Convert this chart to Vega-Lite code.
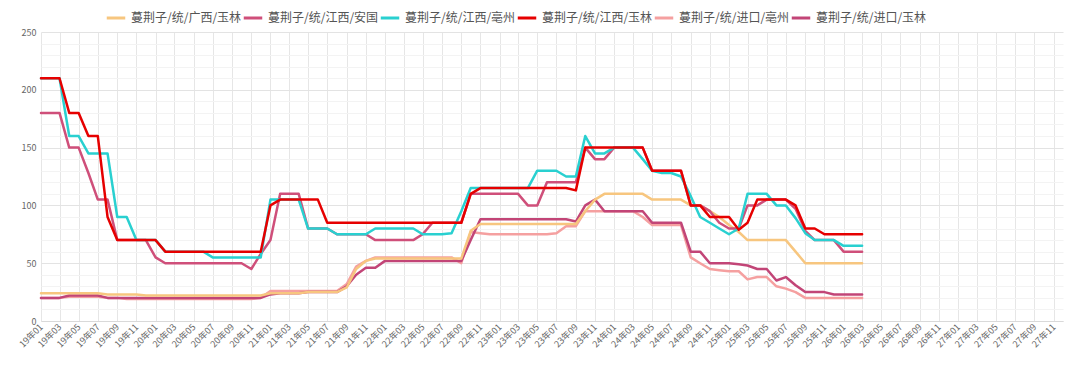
{
  "$schema": "https://vega.github.io/schema/vega-lite/v6.json",
  "width": 1022,
  "height": 289,
  "autosize": {"type": "none"},
  "padding": {"left": 41, "top": 32, "right": 17, "bottom": 53},
  "background": "white",
  "config": {"view": {"stroke": null}, "font": "Noto Sans CJK SC"},
  "data": {"values": [
    {"d":"2019-01-01","a":24,"b":180,"c":210,"e2":210,"e":20,"f":20},
    {"d":"2019-02-01","a":24,"b":180,"c":210,"e2":210,"e":20,"f":20},
    {"d":"2019-03-01","a":24,"b":180,"c":210,"e2":210,"e":20,"f":20},
    {"d":"2019-04-01","a":24,"b":150,"c":160,"e2":180,"e":21,"f":22},
    {"d":"2019-05-01","a":24,"b":150,"c":160,"e2":180,"e":21,"f":22},
    {"d":"2019-06-01","a":24,"b":128,"c":145,"e2":160,"e":21,"f":22},
    {"d":"2019-07-01","a":24,"b":105,"c":145,"e2":160,"e":21,"f":22},
    {"d":"2019-08-01","a":23,"b":105,"c":145,"e2":90,"e":20,"f":20},
    {"d":"2019-09-01","a":23,"b":70,"c":90,"e2":70,"e":20,"f":20},
    {"d":"2019-10-01","a":23,"b":70,"c":90,"e2":70,"e":19,"f":20},
    {"d":"2019-11-01","a":23,"b":70,"c":70,"e2":70,"e":19,"f":20},
    {"d":"2019-12-01","a":22,"b":70,"c":70,"e2":70,"e":19,"f":20},
    {"d":"2020-01-01","a":22,"b":55,"c":70,"e2":70,"e":19,"f":20},
    {"d":"2020-02-01","a":22,"b":50,"c":60,"e2":60,"e":19,"f":20},
    {"d":"2020-03-01","a":22,"b":50,"c":60,"e2":60,"e":19,"f":20},
    {"d":"2020-04-01","a":22,"b":50,"c":60,"e2":60,"e":19,"f":20},
    {"d":"2020-05-01","a":22,"b":50,"c":60,"e2":60,"e":19,"f":20},
    {"d":"2020-06-01","a":22,"b":50,"c":60,"e2":60,"e":19,"f":20},
    {"d":"2020-07-01","a":22,"b":50,"c":55,"e2":60,"e":19,"f":20},
    {"d":"2020-08-01","a":22,"b":50,"c":55,"e2":60,"e":19,"f":20},
    {"d":"2020-09-01","a":22,"b":50,"c":55,"e2":60,"e":19,"f":20},
    {"d":"2020-10-01","a":22,"b":50,"c":55,"e2":60,"e":19,"f":20},
    {"d":"2020-11-01","a":22,"b":45,"c":55,"e2":60,"e":19,"f":20},
    {"d":"2020-12-01","a":22,"b":58,"c":55,"e2":60,"e":20,"f":20},
    {"d":"2021-01-01","a":24,"b":70,"c":105,"e2":100,"e":26,"f":23},
    {"d":"2021-02-01","a":24,"b":110,"c":105,"e2":105,"e":26,"f":24},
    {"d":"2021-03-01","a":24,"b":110,"c":105,"e2":105,"e":26,"f":24},
    {"d":"2021-04-01","a":24,"b":110,"c":105,"e2":105,"e":26,"f":24},
    {"d":"2021-05-01","a":25,"b":80,"c":80,"e2":105,"e":26,"f":25},
    {"d":"2021-06-01","a":25,"b":80,"c":80,"e2":105,"e":26,"f":25},
    {"d":"2021-07-01","a":25,"b":80,"c":80,"e2":85,"e":26,"f":25},
    {"d":"2021-08-01","a":25,"b":75,"c":75,"e2":85,"e":26,"f":25},
    {"d":"2021-09-01","a":29,"b":75,"c":75,"e2":85,"e":32,"f":30},
    {"d":"2021-10-01","a":45,"b":75,"c":75,"e2":85,"e":47,"f":40},
    {"d":"2021-11-01","a":52,"b":75,"c":75,"e2":85,"e":52,"f":46},
    {"d":"2021-12-01","a":54,"b":70,"c":80,"e2":85,"e":55,"f":46},
    {"d":"2022-01-01","a":54,"b":70,"c":80,"e2":85,"e":55,"f":52},
    {"d":"2022-02-01","a":54,"b":70,"c":80,"e2":85,"e":55,"f":52},
    {"d":"2022-03-01","a":54,"b":70,"c":80,"e2":85,"e":55,"f":52},
    {"d":"2022-04-01","a":54,"b":70,"c":80,"e2":85,"e":55,"f":52},
    {"d":"2022-05-01","a":54,"b":75,"c":75,"e2":85,"e":55,"f":52},
    {"d":"2022-06-01","a":54,"b":85,"c":75,"e2":85,"e":55,"f":52},
    {"d":"2022-07-01","a":54,"b":85,"c":75,"e2":85,"e":55,"f":52},
    {"d":"2022-08-01","a":54,"b":85,"c":76,"e2":85,"e":55,"f":52},
    {"d":"2022-09-01","a":54,"b":85,"c":95,"e2":85,"e":50,"f":52},
    {"d":"2022-10-01","a":78,"b":110,"c":115,"e2":110,"e":77,"f":70},
    {"d":"2022-11-01","a":84,"b":110,"c":115,"e2":115,"e":76,"f":88},
    {"d":"2022-12-01","a":84,"b":110,"c":115,"e2":115,"e":75,"f":88},
    {"d":"2023-01-01","a":84,"b":110,"c":115,"e2":115,"e":75,"f":88},
    {"d":"2023-02-01","a":84,"b":110,"c":115,"e2":115,"e":75,"f":88},
    {"d":"2023-03-01","a":84,"b":110,"c":115,"e2":115,"e":75,"f":88},
    {"d":"2023-04-01","a":84,"b":100,"c":115,"e2":115,"e":75,"f":88},
    {"d":"2023-05-01","a":84,"b":100,"c":130,"e2":115,"e":75,"f":88},
    {"d":"2023-06-01","a":84,"b":120,"c":130,"e2":115,"e":75,"f":88},
    {"d":"2023-07-01","a":84,"b":120,"c":130,"e2":115,"e":76,"f":88},
    {"d":"2023-08-01","a":84,"b":120,"c":125,"e2":115,"e":82,"f":88},
    {"d":"2023-09-01","a":84,"b":120,"c":125,"e2":113,"e":82,"f":86},
    {"d":"2023-10-01","a":95,"b":150,"c":160,"e2":150,"e":95,"f":100},
    {"d":"2023-11-01","a":105,"b":140,"c":145,"e2":150,"e":95,"f":105},
    {"d":"2023-12-01","a":110,"b":140,"c":145,"e2":150,"e":95,"f":95},
    {"d":"2024-01-01","a":110,"b":150,"c":150,"e2":150,"e":95,"f":95},
    {"d":"2024-02-01","a":110,"b":150,"c":150,"e2":150,"e":95,"f":95},
    {"d":"2024-03-01","a":110,"b":150,"c":150,"e2":150,"e":95,"f":95},
    {"d":"2024-04-01","a":110,"b":150,"c":140,"e2":150,"e":90,"f":95},
    {"d":"2024-05-01","a":105,"b":130,"c":130,"e2":130,"e":83,"f":85},
    {"d":"2024-06-01","a":105,"b":130,"c":128,"e2":130,"e":83,"f":85},
    {"d":"2024-07-01","a":105,"b":130,"c":128,"e2":130,"e":83,"f":85},
    {"d":"2024-08-01","a":105,"b":130,"c":125,"e2":130,"e":83,"f":85},
    {"d":"2024-09-01","a":100,"b":100,"c":108,"e2":100,"e":55,"f":60},
    {"d":"2024-10-01","a":100,"b":100,"c":90,"e2":100,"e":50,"f":60},
    {"d":"2024-11-01","a":95,"b":95,"c":85,"e2":90,"e":45,"f":50},
    {"d":"2024-12-01","a":90,"b":85,"c":80,"e2":90,"e":44,"f":50},
    {"d":"2025-01-01","a":83,"b":80,"c":75,"e2":90,"e":43,"f":50},
    {"d":"2025-02-01","a":77,"b":80,"c":80,"e2":79,"e":43,"f":49},
    {"d":"2025-03-01","a":70,"b":100,"c":110,"e2":85,"e":36,"f":48},
    {"d":"2025-04-01","a":70,"b":100,"c":110,"e2":105,"e":38,"f":45},
    {"d":"2025-05-01","a":70,"b":105,"c":110,"e2":105,"e":38,"f":45},
    {"d":"2025-06-01","a":70,"b":105,"c":100,"e2":105,"e":30,"f":35},
    {"d":"2025-07-01","a":70,"b":105,"c":100,"e2":105,"e":28,"f":38},
    {"d":"2025-08-01","a":60,"b":97,"c":89,"e2":100,"e":25,"f":31},
    {"d":"2025-09-01","a":50,"b":78,"c":76,"e2":80,"e":20,"f":25},
    {"d":"2025-10-01","a":50,"b":70,"c":70,"e2":80,"e":20,"f":25},
    {"d":"2025-11-01","a":50,"b":70,"c":70,"e2":75,"e":20,"f":25},
    {"d":"2025-12-01","a":50,"b":70,"c":70,"e2":75,"e":20,"f":23},
    {"d":"2026-01-01","a":50,"b":60,"c":65,"e2":75,"e":20,"f":23},
    {"d":"2026-02-01","a":50,"b":60,"c":65,"e2":75,"e":20,"f":23},
    {"d":"2026-03-01","a":50,"b":60,"c":65,"e2":75,"e":20,"f":23}
  ]},
  "transform": [{"fold": ["e", "f", "a", "b", "c", "e2"], "as": ["s", "v"]}],
  "mark": {"type": "line", "strokeWidth": 2.5, "strokeJoin": "round", "strokeCap": "round"},
  "encoding": {
    "x": {
      "field": "d", "type": "temporal",
      "scale": {"type": "utc", "domain": [{"year": 2019, "month": 1, "date": 1, "utc": true}, {"year": 2027, "month": 12, "date": 1, "utc": true}]},
      "axis": {
        "title": null,
        "tickCount": {"interval": "month", "step": 2},
        "format": "%y年%m",
        "labelAngle": -45,
        "labelAlign": "right",
        "labelBaseline": "middle",
        "labelFontSize": 9,
        "labelColor": "#666666",
        "labelPadding": 4,
        "labelOverlap": false,
        "labelFlush": false,
        "labelBound": false,
        "ticks": false,
        "domainColor": "#d9d9d9",
        "gridColor": "#e6e6e6"
      }
    },
    "y": {
      "field": "v", "type": "quantitative",
      "scale": {"domain": [0, 250], "nice": false},
      "axis": {
        "title": null,
        "values": [0,10,20,30,40,50,60,70,80,90,100,110,120,130,140,150,160,170,180,190,200,210,220,230,240,250],
        "labelExpr": "datum.value % 50 === 0 ? datum.label : ''",
        "gridColor": {"condition": {"test": "datum.value % 50 === 0", "value": "#e3e3e3"}, "value": "#f3f3f3"},
        "domain": false,
        "ticks": false,
        "labelFontSize": 9,
        "labelColor": "#666666",
        "labelPadding": 5
      }
    },
    "color": {
      "field": "s", "type": "nominal",
      "scale": {"domain": ["a", "b", "c", "e2", "e", "f"], "range": ["#f7c67f", "#cf4f7a", "#29d0d0", "#e60000", "#f5a0a0", "#c24577"]},
      "legend": {
        "title": null,
        "orient": "none",
        "legendX": 64,
        "legendY": -25,
        "direction": "horizontal",
        "symbolType": "stroke",
        "symbolStrokeWidth": 3,
        "symbolSize": 342,
        "labelOffset": 4,
        "columnPadding": -5,
        "labelFontSize": 12,
        "labelColor": "#555555",
        "labelFont": "Noto Sans CJK SC",
        "labelExpr": "{'a':'蔓荆子/统/广西/玉林','b':'蔓荆子/统/江西/安国','c':'蔓荆子/统/江西/亳州','e2':'蔓荆子/统/江西/玉林','e':'蔓荆子/统/进口/亳州','f':'蔓荆子/统/进口/玉林'}[datum.label]",
        "labelLimit": 0
      }
    }
  }
}
